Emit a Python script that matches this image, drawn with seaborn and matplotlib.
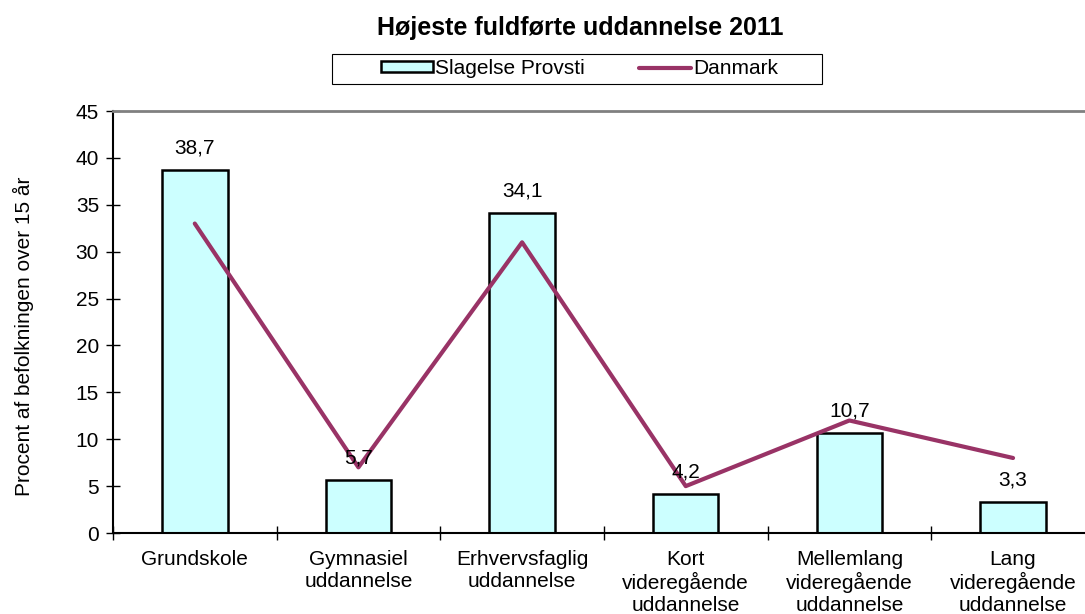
import numpy as np
import matplotlib
matplotlib.use('Agg')
import matplotlib.pyplot as plt
from matplotlib.patches import Rectangle
import seaborn as sns

# ===== data =====
categories = ['Grundskole', 'Gymnasiel\nuddannelse', 'Erhvervsfaglig\nuddannelse',
              'Kort\nvideregående\nuddannelse', 'Mellemlang\nvideregående\nuddannelse',
              'Lang\nvideregående\nuddannelse']
slagelse = [38.7, 5.7, 34.1, 4.2, 10.7, 3.3]
danmark = [33.0, 7.0, 31.0, 5.0, 12.0, 8.0]
y_ticks = [0, 5, 10, 15, 20, 25, 30, 35, 40, 45]

sns.set_style('white')
plt.rcParams['font.family'] = ['Liberation Sans', 'DejaVu Sans']
for key in ['text.color', 'axes.labelcolor', 'xtick.color', 'ytick.color']:
    plt.rcParams[key] = 'black'

fig = plt.figure(figsize=(10.85, 6.14), dpi=100)
ax = fig.add_axes([0.1041, 0.1319, 0.905, 0.6873])

bar_color = '#CCFFFF'
line_color = '#993366'

sns.barplot(x=categories, y=slagelse, ax=ax, color=bar_color, width=0.4,
            edgecolor='black', linewidth=1.8, saturation=1, label='Slagelse Provsti')
sns.lineplot(x=np.arange(len(categories)), y=danmark, ax=ax, color=line_color,
             linewidth=3, label='Danmark')

# værdier over søjlerne med komma som decimaltegn
ax.bar_label(ax.containers[0], labels=[f'{v:.1f}'.replace('.', ',') for v in slagelse],
             padding=9, fontsize=15)

ax.set_xlim(-0.5, 5.5)
ax.set_ylim(0, 45)
ax.set_yticks(y_ticks)
ax.tick_params(axis='y', labelsize=15, direction='inout', length=10, width=1, left=True, pad=5)
ax.tick_params(axis='x', which='major', labelsize=15, length=0, pad=12)
ax.set_xticks(np.arange(-0.5, 6, 1), minor=True)
ax.tick_params(axis='x', which='minor', direction='inout', length=10, width=1, bottom=True)

ax.set_ylabel('Procent af befolkningen over 15 år', fontsize=15)
ax.yaxis.set_label_coords(-0.080, 0.467)
ax.set_xlabel('')

for side in ['left', 'bottom']:
    ax.spines[side].set_color('black')
    ax.spines[side].set_linewidth(1.5)
ax.spines['top'].set_color('#808080')
ax.spines['top'].set_linewidth(2)
ax.spines['right'].set_visible(False)

fig.text(0.535, 0.954, 'Højeste fuldførte uddannelse 2011', ha='center', va='center',
         fontsize=18, fontweight='bold')

# legende: ramme tegnes separat, så der er luft i siderne
ax.get_legend().remove()
handles, labels = ax.get_legend_handles_labels()
order = [labels.index('Slagelse Provsti'), labels.index('Danmark')]
leg = fig.legend([handles[i] for i in order], [labels[i] for i in order],
                 loc='center', bbox_to_anchor=(0.534, 0.888), ncol=2,
                 fontsize=15, frameon=False,
                 handlelength=2.5, handleheight=0.45, handletextpad=0.1, columnspacing=2.6,
                 borderpad=0.2, borderaxespad=0)
fig.patches.append(Rectangle((332 / 1085, 1 - 84 / 614), 490 / 1085, 30 / 614,
                             transform=fig.transFigure, fill=False,
                             edgecolor='black', linewidth=0.8))

fig.savefig('out.png', dpi=100)
